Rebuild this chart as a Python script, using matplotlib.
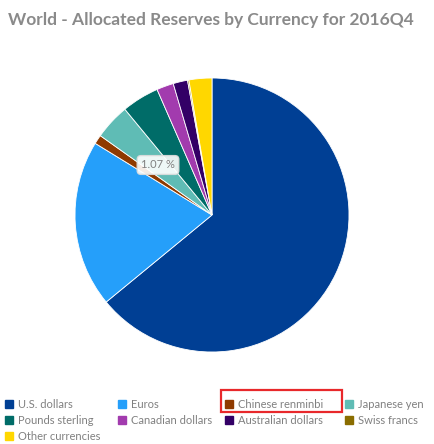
import matplotlib.pyplot as plt
from matplotlib.patches import Rectangle

currencies = ['U.S. dollars', 'Euros', 'Chinese renminbi', 'Japanese yen',
              'Pounds sterling', 'Canadian dollars', 'Australian dollars',
              'Swiss francs', 'Other currencies']
shares = [64.0, 19.7, 1.07, 4.2, 4.4, 2.0, 1.7, 0.16, 2.7]
colors = ['#003f94', '#259ffa', '#8f3a00', '#5fbcb5', '#006c68',
          '#a23bae', '#330066', '#8a6d00', '#ffd700']

W, H = 435, 444
fig = plt.figure(figsize=(W / 100, H / 100), dpi=100)
fig.text(8 / W, 1 - 20 / H, 'World - Allocated Reserves by Currency for 2016Q4',
         fontsize=12.5, color='#8a8a8a', va='center', family='Lato',
         fontweight='bold')

# pie centre ~ (212, 215) px, radius ~137 px
ax = fig.add_axes([(212 - 137) / W, 1 - (215 + 137) / H, 274 / W, 274 / H])
ax.pie(shares, colors=colors, startangle=90, counterclock=False,
       wedgeprops=dict(linewidth=0.6, edgecolor='white'))
ax.set_xlim(-1, 1)
ax.set_ylim(-1, 1)
ax.set_aspect('equal')

fig.text(158 / W, 1 - 165 / H, '1.07 %', fontsize=8, color='#808080',
         ha='center', va='center', family='Lato',
         bbox=dict(boxstyle='round,pad=0.35', fc='white', ec='#dddddd', alpha=0.9))

# legend, row-wise, manual placement
col_x = [5, 118, 225, 345]
row_y = [404, 420, 436]
for i, (name, c) in enumerate(zip(currencies, colors)):
    x = col_x[i % 4]
    y = row_y[i // 4]
    fig.add_artist(Rectangle((x / W, 1 - (y + 4) / H), 8 / W, 8 / H,
                             transform=fig.transFigure, color=c))
    fig.text((x + 13) / W, 1 - y / H, name, fontsize=8, color='#808080',
             va='center', family='Lato')

fig.add_artist(Rectangle((221 / W, 1 - 412 / H), 121 / W, 22 / H,
                         transform=fig.transFigure, fill=False,
                         edgecolor='#e8282b', linewidth=1.6))

fig.savefig('out.png', dpi=100)
